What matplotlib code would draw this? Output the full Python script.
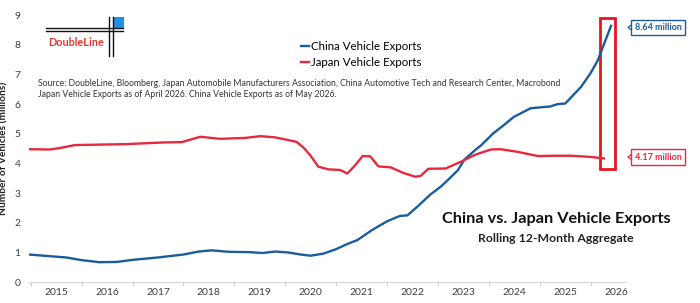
import matplotlib
matplotlib.use('Agg')
import matplotlib.pyplot as plt
from matplotlib.patches import Rectangle
from matplotlib.lines import Line2D

plt.rcParams['font.family'] = ['Lato', 'DejaVu Sans']

# Rolling 12-month aggregate, millions of vehicles
china_years = [2014.96, 2015.4, 2015.7, 2016.0, 2016.35, 2016.7, 2017.0, 2017.5, 2018.0, 2018.3,
               2018.55, 2018.9, 2019.3, 2019.55, 2019.8, 2020.05, 2020.3, 2020.5, 2020.75, 2021.0,
               2021.2, 2021.42, 2021.7, 2022.0, 2022.25, 2022.4, 2022.6, 2022.85, 2023.05, 2023.2,
               2023.39, 2023.52, 2023.73, 2023.84, 2024.09, 2024.3, 2024.49, 2024.82, 2025.06, 2025.2,
               2025.35, 2025.5, 2025.81, 2026.0, 2026.14, 2026.4]
china_values = [0.93, 0.87, 0.83, 0.74, 0.67, 0.68, 0.75, 0.83, 0.93, 1.03,
                1.07, 1.02, 1.01, 0.98, 1.03, 1.0, 0.93, 0.89, 0.96, 1.11,
                1.27, 1.42, 1.75, 2.05, 2.23, 2.25, 2.55, 2.95, 3.21, 3.45,
                3.77, 4.13, 4.45, 4.6, 5.02, 5.3, 5.57, 5.86, 5.9, 5.92,
                6.0, 6.02, 6.58, 7.05, 7.48, 8.64]

japan_years = [2014.96, 2015.37, 2015.57, 2015.87, 2016.85, 2017.64, 2017.97, 2018.17, 2018.33, 2018.72,
               2019.21, 2019.51, 2019.8, 2020.22, 2020.35, 2020.49, 2020.65, 2020.85, 2021.08, 2021.22,
               2021.38, 2021.52, 2021.67, 2021.83, 2022.07, 2022.32, 2022.56, 2022.66, 2022.81, 2023.15,
               2023.44, 2023.74, 2024.04, 2024.23, 2024.57, 2024.96, 2025.31, 2025.61, 2026.0, 2026.26]
japan_values = [4.48, 4.47, 4.52, 4.62, 4.65, 4.71, 4.72, 4.82, 4.9, 4.83,
                4.86, 4.92, 4.88, 4.73, 4.55, 4.28, 3.89, 3.8, 3.78, 3.66,
                3.95, 4.25, 4.24, 3.9, 3.87, 3.68, 3.55, 3.58, 3.82, 3.83,
                4.05, 4.3, 4.47, 4.48, 4.39, 4.25, 4.26, 4.26, 4.22, 4.17]

year_labels = [str(y) for y in range(2015, 2027)]
source_text = ("Source: DoubleLine, Bloomberg, Japan Automobile Manufacturers Association, "
               "China Automotive Tech and Research Center, Macrobond\n"
               "Japan Vehicle Exports as of April 2026. China Vehicle Exports as of May 2026.")

blue = '#1b5c9c'
red = '#e8283c'

fig = plt.figure(figsize=(7, 3.03), dpi=100)
ax = fig.add_axes([0.041, 0.069, 0.853, 0.881])

ax.plot(china_years, china_values, color=blue, lw=1.7, label='China Vehicle Exports')
ax.plot(japan_years, japan_values, color=red, lw=1.7, label='Japan Vehicle Exports')

ax.set_xlim(2014.96, 2026.69)
ax.set_ylim(0, 9)
ax.set_yticks(range(0, 10))
ax.tick_params(axis='y', length=0, pad=6, labelsize=7.5, labelcolor='#404040')

# year boundaries get tick marks, labels sit mid-year
ax.set_xticks(range(2015, 2027))
ax.set_xticklabels([])
ax.set_xticks([y + 0.5 for y in range(2015, 2027)], minor=True)
ax.set_xticklabels(year_labels, minor=True)
ax.tick_params(axis='x', which='major', length=3, color='#d0d0d0')
ax.tick_params(axis='x', which='minor', length=0, pad=4, labelsize=7.5, labelcolor='#404040')

for s in ['top', 'right', 'left']:
    ax.spines[s].set_visible(False)
ax.spines['bottom'].set_color('#d9d9d9')

ax.set_ylabel('Number of Vehicles (millions)', fontsize=7.3, fontweight='bold', color='#222222', labelpad=4)

# highlight box around the latest readings
ax.add_patch(Rectangle((2026.18, 3.81), 0.3, 5.09, fill=False, edgecolor='#e8141e', lw=2, clip_on=False))

leg = fig.legend(loc='upper left', bbox_to_anchor=(0.423, 0.88), frameon=False, fontsize=8.3,
                 handlelength=0.7, handletextpad=0.2, labelspacing=0.45, borderaxespad=0)

fig.text(38 / 700, 1 - 79 / 303, source_text, fontsize=6.2, color='#333333', va='top', linespacing=1.35)

fig.text(556 / 700, 1 - 219 / 303, 'China vs. Japan Vehicle Exports', fontsize=11.7, fontweight='bold',
         ha='center', va='center', color='#111111')
fig.text(556 / 700, 1 - 239 / 303, 'Rolling 12-Month Aggregate', fontsize=8.8, fontweight='bold',
         ha='center', va='center', color='#222222')

# value call-outs
for val, txt, col, yc in [(8.64, '8.64 million', blue, 27.5), (4.17, '4.17 million', red, 157)]:
    fig.text(658 / 700, 1 - yc / 303, txt, fontsize=6.5, fontweight='bold', color=col,
             ha='center', va='center',
             bbox=dict(boxstyle='square,pad=0.35', fc='white', ec=col, lw=1))
    fig.add_artist(Line2D([632 / 700, 628 / 700, 632 / 700],
                          [1 - (yc - 3) / 303, 1 - yc / 303, 1 - (yc + 3) / 303],
                          color=col, lw=0.9))

# DoubleLine logo
def fx(px):
    return px / 700

def fy(py):
    return 1 - py / 303

for yy in [27.7, 31.0]:
    fig.add_artist(Line2D([fx(46), fx(123)], [fy(yy), fy(yy)], color='#111111', lw=1))
for xx in [109.0, 112.7]:
    fig.add_artist(Line2D([fx(xx), fx(xx)], [fy(17), fy(56)], color='#111111', lw=1))
fig.add_artist(Rectangle((fx(112.7), fy(28.3)), fx(11.3), 11 / 303, color='#1e90e8', lw=0))
fig.text(fx(48), fy(43), 'DoubleLine', fontsize=7.8, fontweight='bold', color='#e03c31', va='center')

fig.savefig('out.png', dpi=100)
